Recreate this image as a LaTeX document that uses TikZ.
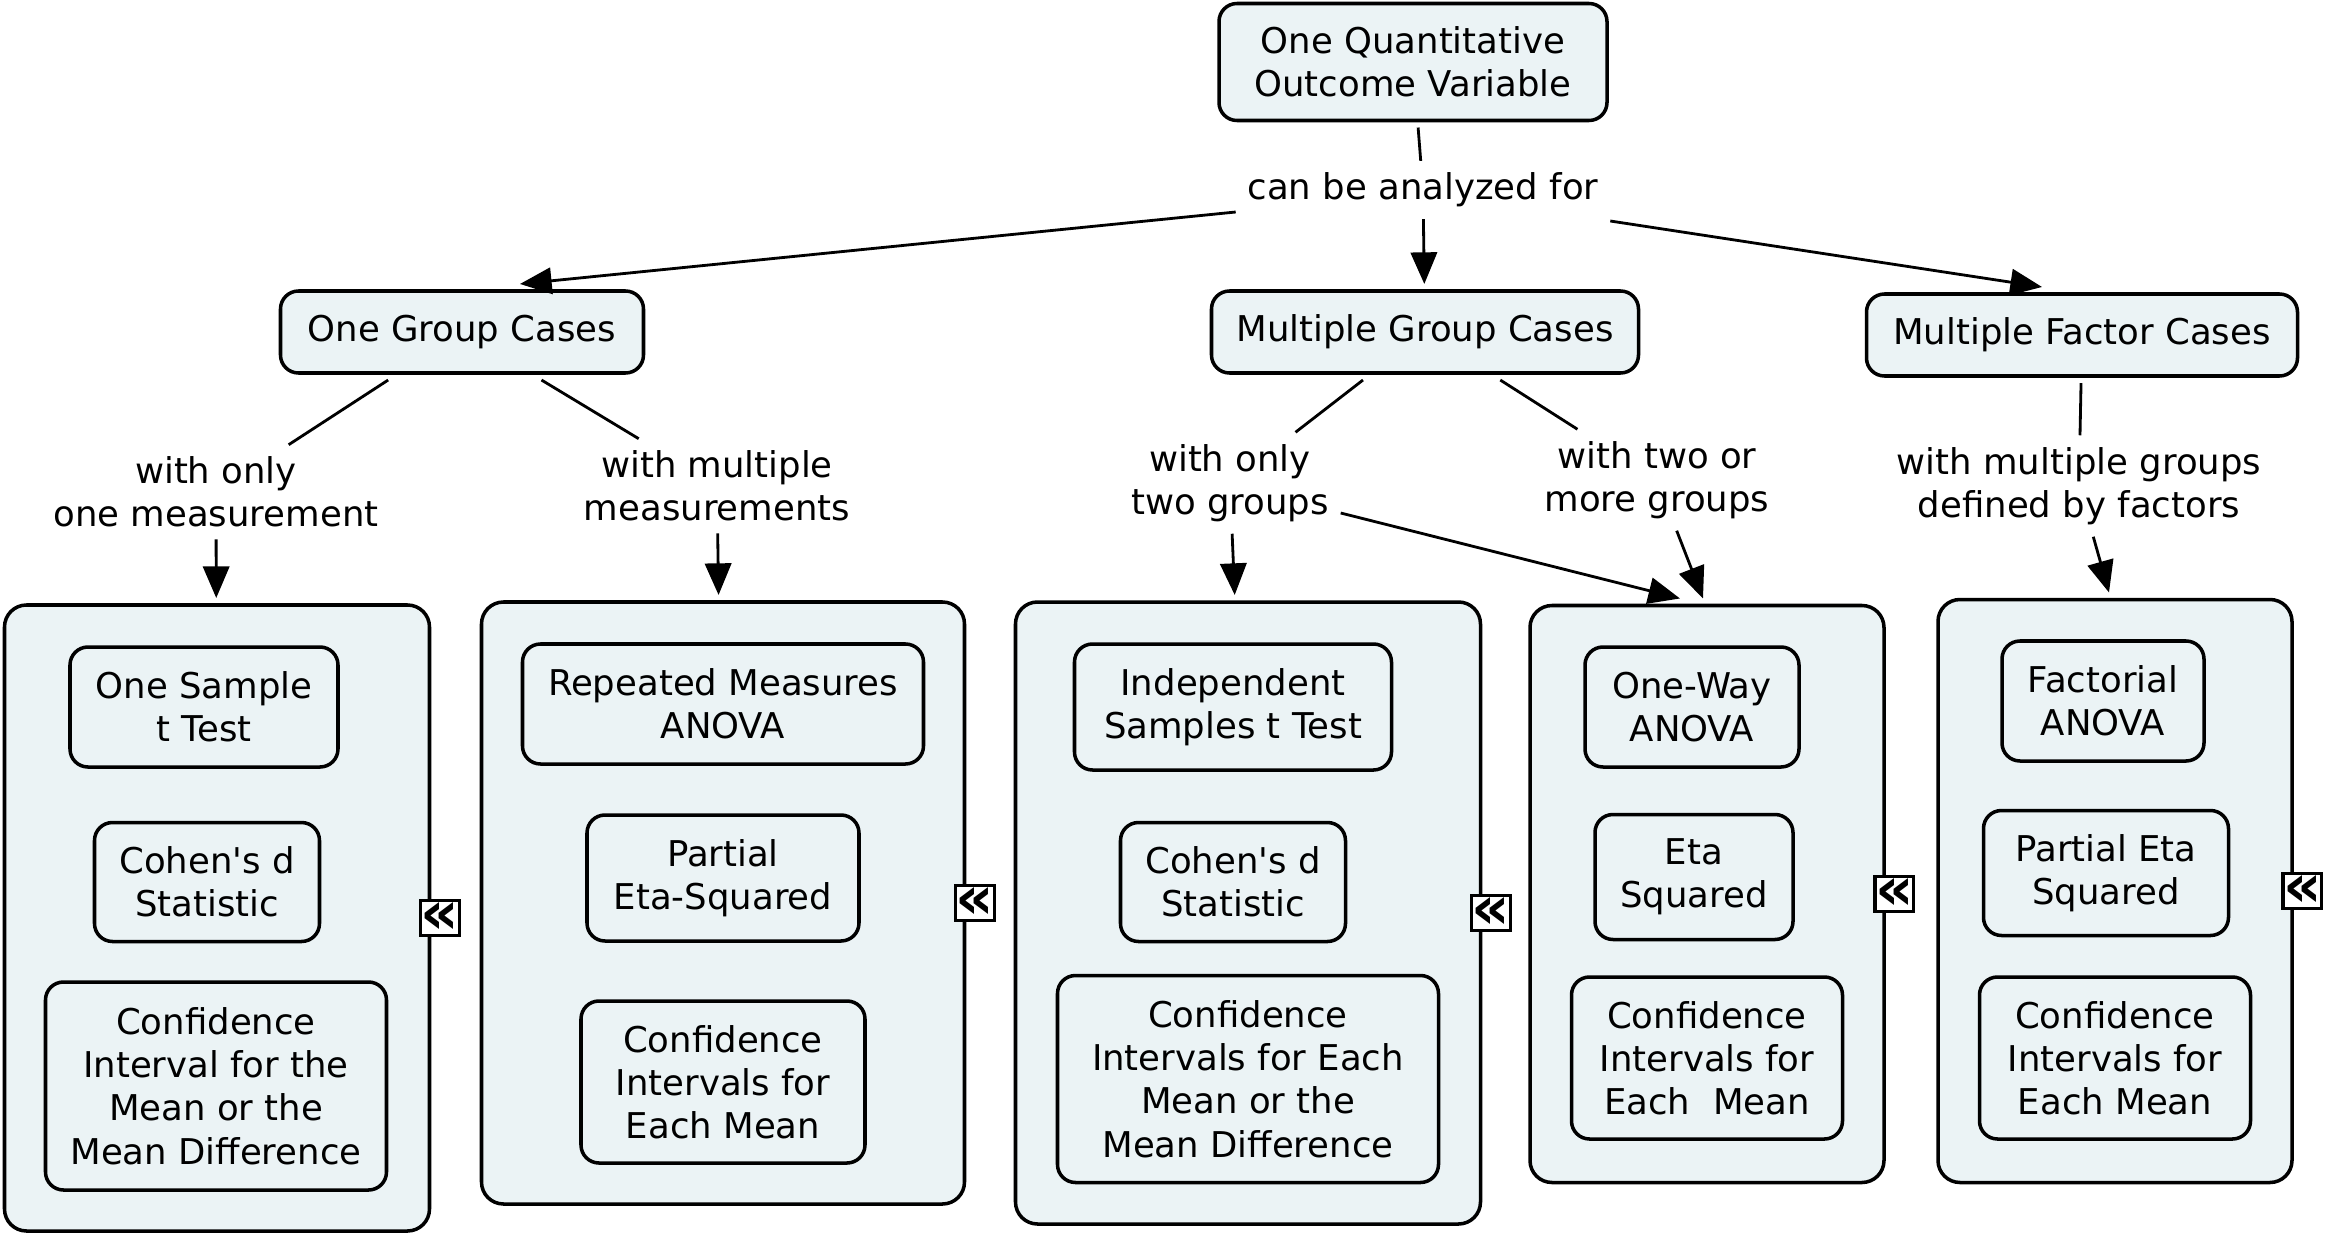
\documentclass[tikz,border=0pt]{standalone}
\usepackage{fontspec}
\setmainfont{DejaVu Sans}
\usepackage{tikz}
\usetikzlibrary{positioning,arrows.meta}
\definecolor{fondcmap}{RGB}{235,243,245}
\tikzstyle{concept} = [rectangle, rounded corners=0.18cm, draw=black, line width=1pt, fill=fondcmap, align=center, inner sep=0pt, outer sep=2pt]
\tikzstyle{groupe} = [rectangle, rounded corners=0.22cm, draw=black, line width=1pt, fill=fondcmap, outer sep=2pt]
\tikzstyle{liaison} = [align=center, inner sep=3pt]
\tikzstyle{icone} = [rectangle, draw=black, fill=white, line width=0.9pt, minimum size=0.35cm, inner sep=0pt, font=\bfseries\fontsize{17}{17}\selectfont]

\begin{document}
\begin{tikzpicture}[>={Triangle[length=9pt,width=7.5pt]}, line width=0.8pt, font=\fontsize{10.1}{12.3}\selectfont]

        \useasboundingbox (0,0) rectangle (23.31,-12.38);

        \node (qov) [concept, minimum width=3.88cm, minimum height=1.17cm] at (14.13,-0.62) {One Quantitative\\Outcome Variable};
        \node (analyse) [liaison] at (14.23,-1.90) {can be analyzed for};

        \node (onegroup) [concept, minimum width=3.63cm, minimum height=0.82cm] at (4.62,-3.32) {One Group Cases};
        \node (multigroup) [concept, minimum width=4.27cm, minimum height=0.82cm] at (14.25,-3.32) {Multiple Group Cases};
        \node (multifactor) [concept, minimum width=4.31cm, minimum height=0.82cm] at (20.82,-3.35) {Multiple Factor Cases};

        \node (onemeas) [liaison] at (2.16,-4.92) {with only\\one measurement};
        \node (multimeas) [liaison] at (7.17,-4.86) {with multiple\\measurements};
        \node (twogroups) [liaison] at (12.30,-4.83) {with only\\two groups};
        \node (moregroups) [liaison] at (16.57,-4.80) {with two or\\more groups};
        \node (byfactors) [liaison] at (20.79,-4.86) {with multiple groups\\defined by factors};

        \node (g1) [groupe, minimum width=4.25cm, minimum height=6.26cm] at (2.17,-9.18) {};
        \node (g2) [groupe, minimum width=4.83cm, minimum height=6.02cm] at (7.23,-9.03) {};
        \node (g3) [groupe, minimum width=4.65cm, minimum height=6.22cm] at (12.48,-9.13) {};
        \node (g4) [groupe, minimum width=3.54cm, minimum height=5.77cm] at (17.07,-8.94) {};
        \node (g5) [groupe, minimum width=3.54cm, minimum height=5.83cm] at (21.15,-8.91) {};

        \node (i1) [icone, right=-5pt of g1] {«};
        \node (i2) [icone, right=-5pt of g2] {«};
        \node (i3) [icone, right=-5pt of g3] {«};
        \node (i4) [icone, right=-5pt of g4] {«};
        \node (i5) [icone, right=-5pt of g5] {«};

        \node (onesample) [concept, minimum width=2.68cm, minimum height=1.20cm] at (2.04,-7.07) {One Sample\\t Test};
        \node (cohen1) [concept, minimum width=2.25cm, minimum height=1.19cm] at (2.07,-8.82) {Cohen\textquotesingle s d\\Statistic};
        \node (ci1) [concept, minimum width=3.41cm, minimum height=2.08cm] at (2.16,-10.86) {Confidence\\Interval for the\\Mean or the\\Mean Difference};

        \node (repeated) [concept, minimum width=4.01cm, minimum height=1.20cm] at (7.23,-7.04) {Repeated Measures\\ANOVA};
        \node (peta1) [concept, minimum width=2.72cm, minimum height=1.26cm] at (7.23,-8.78) {Partial\\Eta-Squared};
        \node (ci2) [concept, minimum width=2.84cm, minimum height=1.62cm] at (7.23,-10.82) {Confidence\\Intervals for\\Each Mean};

        \node (independent) [concept, minimum width=3.17cm, minimum height=1.26cm] at (12.33,-7.07) {Independent\\Samples t Test};
        \node (cohen2) [concept, minimum width=2.25cm, minimum height=1.19cm] at (12.33,-8.82) {Cohen\textquotesingle s d\\Statistic};
        \node (ci3) [concept, minimum width=3.81cm, minimum height=2.07cm] at (12.48,-10.79) {Confidence\\Intervals for Each\\Mean or the\\Mean Difference};

        \node (oneway) [concept, minimum width=2.14cm, minimum height=1.20cm] at (16.92,-7.07) {One-Way\\ANOVA};
        \node (eta) [concept, minimum width=1.98cm, minimum height=1.25cm] at (16.94,-8.77) {Eta\\Squared};
        \node (ci4) [concept, minimum width=2.71cm, minimum height=1.62cm] at (17.07,-10.58) {Confidence\\Intervals for\\Each\ \ Mean};

        \node (factorial) [concept, minimum width=2.02cm, minimum height=1.20cm] at (21.03,-7.01) {Factorial\\ANOVA};
        \node (peta2) [concept, minimum width=2.45cm, minimum height=1.25cm] at (21.06,-8.73) {Partial Eta\\Squared};
        \node (ci5) [concept, minimum width=2.71cm, minimum height=1.62cm] at (21.15,-10.58) {Confidence\\Intervals for\\Each Mean};

        \draw (qov) -- (analyse);
        \draw[->] ([yshift=-0.22cm]analyse.west) -- ([xshift=0.58cm]onegroup.north);
        \draw[->] (analyse) -- (multigroup);
        \draw[->] ([yshift=-0.31cm]analyse.east) -- ([xshift=-0.40cm]multifactor.north);

        \draw (onegroup) -- (onemeas);
        \draw[->] (onemeas) -- (g1);
        \draw (onegroup) -- (multimeas);
        \draw[->] (multimeas) -- (g2);

        \draw (multigroup) -- (twogroups);
        \draw[->] (twogroups) -- (g3);
        \draw[->] ([yshift=-0.3cm]twogroups.east) -- ([xshift=-0.27cm]g4.north);
        \draw (multigroup) -- (moregroups);
        \draw[->] (moregroups) -- ([xshift=-0.04cm]g4.north);

        \draw (multifactor) -- (byfactors);
        \draw[->] (byfactors) -- ([xshift=-0.06cm]g5.north);

    \end{tikzpicture}
\end{document}
